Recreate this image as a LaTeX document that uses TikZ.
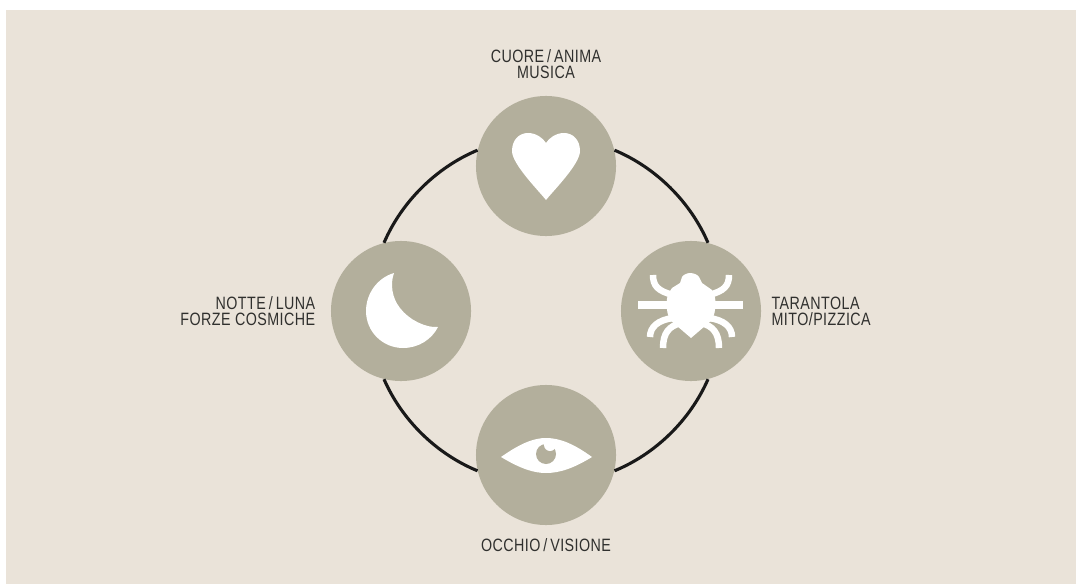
\documentclass[tikz,border=0pt]{standalone}
\usepackage{fontspec}
\setmainfont[FakeStretch=0.8,LetterSpace=2.5]{Liberation Sans}
\usetikzlibrary{positioning}
\definecolor{paperbeige}{RGB}{234,227,217}
\definecolor{spottaupe}{RGB}{179,175,156}
\definecolor{labelgrey}{RGB}{48,48,46}

\begin{document}
\begin{tikzpicture}[
    x=0.025cm, y=-0.025cm,
    node distance=0.3cm,
    spot/.style={circle, fill=spottaupe, minimum size=3.5cm, inner sep=0pt},
    caption/.style={inner sep=0pt, text=labelgrey, font=\fontsize{12.7}{11.3}\selectfont},
    ring/.style={line width=2.2pt, black!90, bend left=22, looseness=0.87},
    icon/.style={fill=white, draw=none},
    leg/.style={white, line width=4.6pt}
]
\useasboundingbox (0,0) rectangle (1076,584);

% Paper
\fill[white] (0,0) rectangle (1076,584);
\fill[paperbeige] (6,10) rectangle (1076,584);

% Spots
\node[spot] (cuore) at (546,166) {};
\node[spot] (tarantola) at (691,311) {};
\node[spot] (occhio) at (546,455) {};
\node[spot] (notte) at (401,311) {};

% Ring
\draw[ring] (cuore.13) to (tarantola.76);
\draw[ring] (tarantola.-76) to (occhio.-13);
\draw[ring] (occhio.193) to (notte.-104);
\draw[ring] (notte.104) to (cuore.167);

% Labels
\node[caption, align=center, above=0.42cm of cuore] (cuorelabel) {CUORE\,/\,ANIMA\\MUSICA};
\node[caption, align=left, right=0.25cm of tarantola] (tarantolalabel) {TARANTOLA\\MITO/PIZZICA};
\node[caption, align=center, below=0.32cm of occhio] (occhiolabel) {OCCHIO\,/\,VISIONE};
\node[caption, align=right, left=0.38cm of notte] (nottelabel) {NOTTE\,/\,LUNA\\FORZE COSMICHE};

% Heart
\fill[icon, shift={(cuore.center)}] (0,34) .. controls (-8,24) and (-34,-2) .. (-34,-15)
    .. controls (-34,-26) and (-27,-33) .. (-18,-33) .. controls (-10,-33) and (-3,-28) .. (0,-23)
    .. controls (3,-28) and (10,-33) .. (18,-33) .. controls (27,-33) and (34,-26) .. (34,-15)
    .. controls (34,-2) and (8,24) .. (0,34) -- cycle;

% Moon
\fill[icon, shift={(notte.center)}] (-7,-38) .. controls (-24,-33) and (-35,-17) .. (-35,0)
    .. controls (-35,21) and (-18,37) .. (2,37) .. controls (18,37) and (31,28) .. (37,16)
    .. controls (25,17) and (8,9) .. (-1,-3) .. controls (-9,-13) and (-11,-27) .. (-7,-38) -- cycle;

% Eye
\begin{scope}[shift={(occhio.center)}]
    \fill[icon] (-45,2) .. controls (-25,-12) and (-12,-17) .. (0,-17) .. controls (14,-17) and (28,-11) .. (46,2)
        .. controls (28,13) and (14,18) .. (0,18) .. controls (-12,18) and (-25,14) .. (-45,2) -- cycle;
    \fill[spottaupe] (0,-1) circle (10);
    \fill[white] (4,-10) circle (6);
\end{scope}

% Spider
\begin{scope}[shift={(tarantola.center)}]
    \fill[icon] (-1,-38) .. controls (3,-38) and (7,-36) .. (8,-34) -- (11,-28) -- (21,-21)
        .. controls (24,-16) and (25,-10) .. (24,-8) .. controls (25,-2) and (23,5) .. (21,9) -- (0,27) -- (-21,9)
        .. controls (-23,5) and (-25,-2) .. (-24,-8) .. controls (-25,-12) and (-23,-18) .. (-19,-23)
        -- (-11,-28) -- (-9,-34) .. controls (-8,-36) and (-4,-38) .. (-1,-38) -- cycle;
    \fill[icon] (-53,-10) rectangle (52,-2);
    \foreach \side in {-1,1} {
        \draw[leg, xscale=\side] (18,-16) .. controls (33,-20) and (38,-25) .. (38,-36);
        \draw[leg, xscale=\side] (18,7) .. controls (33,9) and (41,16) .. (41,26);
        \draw[leg, xscale=\side] (10,12) .. controls (22,15) and (28,22) .. (28,37);
    }
\end{scope}

\end{tikzpicture}
\end{document}
